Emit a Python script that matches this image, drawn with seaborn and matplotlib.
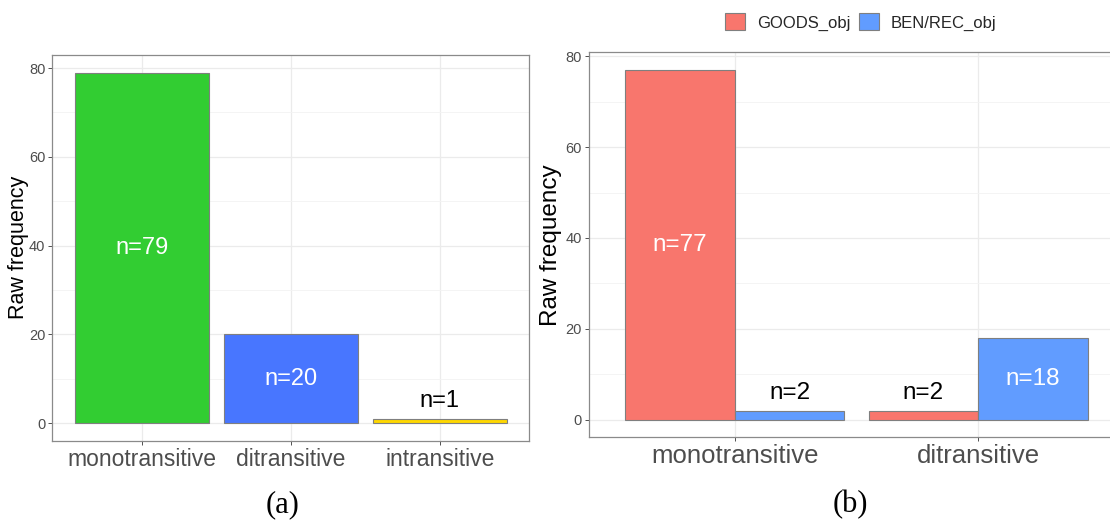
import matplotlib
matplotlib.use("Agg")
import matplotlib.pyplot as plt
import seaborn as sns
import pandas as pd
from matplotlib.ticker import MultipleLocator

# ---- data ----
categories_a = ["monotransitive", "ditransitive", "intransitive"]
counts_a = [79, 20, 1]
colors_a = ["#32CD32", "#4876FF", "#FFD700"]

categories_b = ["monotransitive", "ditransitive"]
groups_b = ["GOODS_obj", "BEN/REC_obj"]
goods_b = [77, 2]
benrec_b = [2, 18]
colors_b = ["#F8766D", "#619CFF"]

panel_labels = ["(a)", "(b)"]
y_label = "Raw frequency"

sns.set_theme(style="white")
plt.rcParams["font.family"] = ["Liberation Sans", "DejaVu Sans"]

EDGE = "#7f7f7f"
BORDER = "#8a8a8a"

fig = plt.figure(figsize=(11.1, 5.24), dpi=100)
axA = fig.add_axes([0.0471, 0.159, 0.4297, 0.7361])
axB = fig.add_axes([0.5304, 0.1655, 0.4823, 0.7347])

dfA = pd.DataFrame({"type": categories_a, "count": counts_a})
sns.barplot(data=dfA, x="type", y="count", hue="type", order=categories_a,
            hue_order=categories_a, palette=colors_a, width=0.9,
            saturation=1, edgecolor=EDGE, linewidth=0.8, legend=False, ax=axA)

dfB = pd.DataFrame({
    "type": categories_b * 2,
    "obj": [g for g in groups_b for _ in categories_b],
    "count": goods_b + benrec_b,
})
sns.barplot(data=dfB, x="type", y="count", hue="obj", order=categories_b,
            hue_order=groups_b, palette=colors_b, width=0.9, gap=0,
            saturation=1, edgecolor=EDGE, linewidth=0.8, ax=axB)


def label_bars(ax, values_per_container, fs):
    for cont, vals in zip(ax.containers, values_per_container):
        for bar, v in zip(cont, vals):
            x = bar.get_x() + bar.get_width() / 2
            if v >= 10:
                ax.text(x, v / 2, f"n={v}", ha="center", va="center",
                        color="white", fontsize=fs, zorder=5)
            else:
                ax.text(x, v + 1.5, f"n={v}", ha="center", va="bottom",
                        color="black", fontsize=fs, zorder=5)


# left: one container per hue level (one bar each)
label_bars(axA, [[c] for c in counts_a], 17)
label_bars(axB, [goods_b, benrec_b], 17.5)

# legend
handles, labels = axB.get_legend_handles_labels()
axB.get_legend().remove()
fig.legend(handles, labels, loc="center", bbox_to_anchor=(0.7756, 0.958),
           ncol=2, frameon=False, fontsize=12, handlelength=1.2,
           handleheight=1.15, handletextpad=0.68, columnspacing=0.56,
           borderaxespad=0, borderpad=0)
for h in fig.legends[0].legend_handles:
    h.set_edgecolor(EDGE)
    h.set_linewidth(0.8)


def style(ax, xlim, ylim, xfs, yfs, label_x):
    ax.set_xlim(*xlim)
    ax.set_ylim(*ylim)
    ax.set_axisbelow(True)
    ax.yaxis.set_major_locator(MultipleLocator(20))
    ax.yaxis.set_minor_locator(MultipleLocator(10))
    ax.grid(axis="y", which="major", color="#EBEBEB", linewidth=0.9)
    ax.grid(axis="y", which="minor", color="#F3F3F3", linewidth=0.6)
    ax.grid(axis="x", which="major", color="#EBEBEB", linewidth=0.9)
    for s in ax.spines.values():
        s.set_visible(True)
        s.set_color(BORDER)
        s.set_linewidth(0.9)
    ax.tick_params(axis="both", which="major", bottom=True, left=True,
                   length=2.75, width=0.6, color="#333333", pad=2.2,
                   labelcolor="#4D4D4D", direction="out")
    ax.tick_params(axis="y", which="minor", left=False)
    ax.tick_params(axis="y", labelsize=10.5)
    ax.tick_params(axis="x", labelsize=xfs)
    ax.set_xlabel("")
    ax.set_ylabel(y_label, fontsize=yfs, color="black")
    ax.yaxis.set_label_coords(label_x, 0.5)


style(axA, (-0.6, 2.6), (-3.95, 82.95), 16.5, 15.5, -23 / 477)
style(axB, (-0.6, 1.6), (-3.85, 80.85), 18.5, 17.5, -27 / 535)

fig.text(283 / 1110, 0.022, panel_labels[0], ha="center", va="baseline",
         family="Liberation Serif", fontsize=22, color="black")
fig.text(850 / 1110, 0.022, panel_labels[1], ha="center", va="baseline",
         family="Liberation Serif", fontsize=22, color="black")

fig.savefig("out.png", dpi=100)
